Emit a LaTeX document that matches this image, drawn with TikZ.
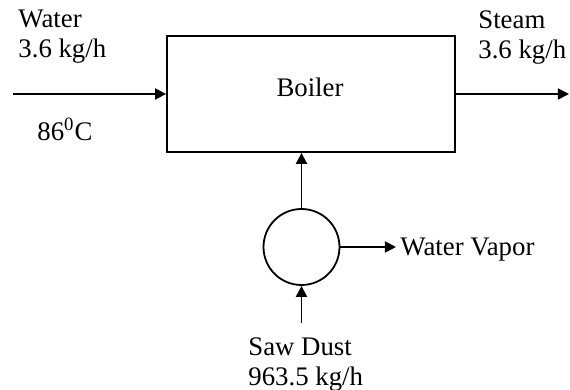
\documentclass[tikz,border=0pt]{standalone}
\usepackage{fontspec}
\setmainfont{Liberation Serif}
\usetikzlibrary{arrows.meta,positioning}
\tikzset{
  unit/.style={rectangle,draw,line width=0.9pt,minimum width=144pt,minimum height=58pt,inner sep=0pt},
  burner/.style={circle,draw,line width=0.9pt,minimum size=38pt,inner sep=0pt},
  lbl/.style={inner sep=0pt,font=\fontsize{13.4}{15}\selectfont},
  flow/.style={-{Triangle[length=5.5pt,width=5.5pt]},line width=0.9pt},
}

\begin{document}
\begin{tikzpicture}[x=0.5pt,y=-0.5pt]
  \useasboundingbox (0,0) rectangle (570,390);
  \node[unit] (boiler) at (311,94) {};
  \node[lbl,anchor=base] (boilername) at (310,97) {Boiler};
  \node[burner] (burner) at (301.5,247) {};
  \coordinate (win) at (13,94);
  \coordinate (sout) at (569,94);
  \coordinate (sdin) at (301.5,323);
  \coordinate (vout) at (396,247);
  \draw[flow] (win) -- (boiler.west);
  \draw[flow] (boiler.east) -- (sout);
  \draw[flow] (burner.north) -- (burner.north |- boiler.south);
  \draw[flow] (sdin) -- (burner.south);
  \draw[flow] (burner.east) -- (vout);
  \node[lbl,anchor=north west,align=left] (water) at (18,10) {Water\\3.6 kg/h};
  \node[lbl,anchor=base west] (temp) at (37,141) {86\textsuperscript{0}C};
  \node[lbl,anchor=north west,align=left] (steam) at (478,10) {Steam\\3.6 kg/h};
  \node[lbl,anchor=base west] (vapor) at (400,256) {Water Vapor};
  \node[lbl,anchor=north west,align=left] (sawdust) at (248,337) {Saw Dust\\963.5 kg/h};
\end{tikzpicture}
\end{document}
